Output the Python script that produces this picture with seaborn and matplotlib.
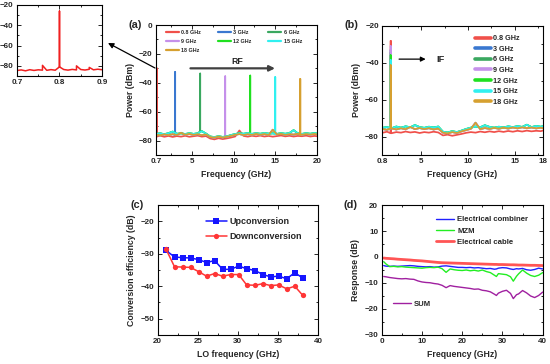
import numpy as np
import pandas as pd
import matplotlib
matplotlib.use("Agg")
import matplotlib.pyplot as plt
from matplotlib.ticker import MultipleLocator
from matplotlib.lines import Line2D
import seaborn as sns

# ---------------- data ----------------
# inset: zoom of the 0.8 GHz tone
inset_freq = [0.70, 0.71, 0.72, 0.73, 0.74, 0.75, 0.76, 0.76, 0.77, 0.78, 0.79, 0.80, 0.80, 0.80,
              0.81, 0.82, 0.83, 0.84, 0.84, 0.85, 0.86, 0.87, 0.87, 0.88, 0.89, 0.90]
inset_power = [-84.6, -84.0, -84.9, -83.8, -84.5, -83.9, -84.2, -79.5, -84.4, -83.7, -84.3, -81.0, -26.0, -81.0,
               -83.6, -84.2, -83.5, -84.0, -80.0, -83.6, -84.1, -83.4, -81.5, -83.9, -83.3, -83.8]

tone_labels = ["0.8 GHz", "3 GHz", "6 GHz", "9 GHz", "12 GHz", "15 GHz", "18 GHz"]
floor_pick = ["low", "mid", "high", "mid", "high", "high", "mid"]

# (a) RF spectra
rf_tone = [0.8, 3, 6, 9, 12, 15, 18]
rf_peak = [-30.0, -32.5, -33.6, -35.5, -35.0, -36.0, -37.3]
freq_a = [0.7, 1.2, 1.7, 2.2, 2.7, 3.2, 3.7, 4.2, 4.7, 5.2, 5.7, 6.2, 6.7, 7.2, 7.7, 8.2, 8.7, 9.2, 9.7, 10.2,
          10.7, 11.2, 11.7, 12.2, 12.7, 13.2, 13.7, 14.2, 14.7, 15.2, 15.7, 16.2, 16.7, 17.2, 17.7, 18.2, 18.7,
          19.2, 19.7, 20.0]
floor_a_low = [-77.2, -76.6, -77.4, -76.8, -77.5, -76.9, -77.3, -76.7, -77.4, -77.0, -76.6, -77.3, -76.9, -78.6,
               -79.2, -78.4, -79.0, -78.5, -77.9, -77.2, -73.0, -76.8, -77.3, -76.7, -77.1, -76.6, -77.2, -76.8,
               -77.3, -76.9, -76.5, -77.1, -76.7, -77.2, -76.8, -77.0, -76.6, -77.2, -76.8, -77.0]
floor_a_mid = [-75.9, -76.5, -75.7, -76.3, -75.6, -76.2, -74.6, -76.0, -75.4, -76.1, -75.6, -76.3, -75.8, -77.6,
               -78.0, -77.3, -77.9, -77.4, -76.8, -76.0, -75.5, -76.2, -75.6, -76.1, -75.4, -76.0, -75.5, -76.2,
               -72.5, -75.8, -75.4, -76.1, -75.6, -75.9, -75.3, -76.0, -75.5, -75.9, -75.4, -75.8]
floor_a_high = [-75.4, -75.0, -75.6, -74.9, -73.8, -75.3, -75.0, -75.5, -74.9, -75.4, -75.0, -73.5, -75.2, -77.2,
                -77.6, -77.0, -77.5, -77.1, -76.2, -75.5, -74.9, -75.3, -74.8, -75.4, -74.9, -75.3, -74.8, -75.2,
                -75.0, -75.4, -74.9, -75.3, -74.8, -72.8, -75.0, -75.4, -74.9, -75.3, -74.8, -75.2]

# (b) IF spectra
if_tone = [1.7, 1.7, 1.7, 1.7, 1.7, 1.7, 1.7]
if_peak = [-28.2, -33.0, -34.5, -31.0, -36.0, -38.6, -41.4]
freq_b = [0.8, 1.3, 1.8, 2.3, 2.8, 3.3, 3.8, 4.3, 4.8, 5.3, 5.8, 6.3, 6.8, 7.3, 7.8, 8.3, 8.8, 9.3, 9.8, 10.3,
          10.8, 11.3, 11.8, 12.3, 12.8, 13.3, 13.8, 14.3, 14.8, 15.3, 15.8, 16.3, 16.8, 17.3, 17.8, 18.0]
floor_b_low = [-78.0, -77.4, -78.2, -77.6, -77.9, -77.3, -77.8, -77.5, -78.1, -77.6, -77.9, -77.4, -77.8, -79.4,
               -79.0, -79.6, -79.1, -78.6, -78.0, -77.6, -77.9, -77.3, -77.7, -77.2, -77.6, -77.1, -77.5, -77.0,
               -77.4, -76.9, -77.3, -76.8, -77.2, -76.9, -77.1, -76.8]
floor_b_mid = [-75.9, -76.4, -75.6, -76.2, -75.5, -76.1, -74.8, -76.0, -75.4, -76.0, -75.5, -76.2, -75.7, -77.9,
               -78.3, -77.6, -78.1, -77.2, -76.5, -75.8, -72.5, -76.0, -75.4, -75.9, -75.3, -75.8, -75.2, -75.7,
               -75.1, -75.6, -75.0, -75.5, -75.1, -75.6, -75.2, -75.5]
floor_b_high = [-75.3, -74.9, -75.5, -74.6, -75.2, -74.5, -75.0, -73.8, -74.9, -75.3, -74.7, -75.1, -74.6, -77.4,
                -77.8, -77.1, -77.6, -76.8, -75.9, -75.2, -74.6, -75.0, -73.9, -74.8, -75.2, -74.7, -75.1, -74.5,
                -74.9, -74.4, -74.8, -73.6, -74.9, -74.3, -74.7, -74.4]

# (c) conversion efficiency
lo_freq = [21.0, 22.1, 23.1, 24.1, 25.1, 26.1, 27.1, 28.1, 29.1, 30.1, 31.1, 32.2, 33.1, 34.1, 35.1, 36.1, 37.1, 38.1]
up_eff = [-28.9, -31.0, -31.2, -31.3, -31.8, -32.7, -32.1, -34.8, -34.8, -33.8, -34.6, -35.2, -36.4, -37.1,
          -36.9, -37.7, -35.8, -37.5]
down_eff = [-28.4, -34.0, -34.1, -34.2, -35.5, -36.9, -36.1, -36.9, -36.4, -36.4, -39.6, -39.7, -39.2, -39.8,
            -39.6, -40.8, -40.0, -42.8]

# (d) frequency responses
freq_d = [0.5, 1, 2, 3, 4, 5, 6, 7, 8, 9, 10, 11, 12, 13, 14, 15, 16, 17, 18, 19, 20, 21, 22, 23, 24, 25, 26,
          27, 28, 28.5, 29, 30, 31, 32, 32.7, 33.5, 34, 35, 36, 37, 38, 39, 40]
combiner = [-3.3, -3.5, -3.6, -3.5, -3.6, -3.5, -3.4, -3.3, -3.4, -3.6, -3.7, -3.8, -3.7, -3.9, -3.8, -3.5, -3.4,
            -3.6, -3.8, -4.0, -4.0, -4.1, -4.0, -4.2, -4.1, -4.3, -4.5, -4.4, -4.7, -4.6, -4.3, -4.1, -4.2, -4.6,
            -4.8, -4.5, -4.6, -4.4, -4.9, -5.1, -4.8, -4.3, -4.6]
mzm = [-1.8, -2.6, -3.7, -3.6, -3.8, -3.7, -3.9, -4.0, -4.1, -4.2, -4.3, -4.1, -4.0, -4.1, -3.9, -4.5, -5.9, -4.6,
       -4.9, -5.1, -5.2, -5.0, -5.3, -5.1, -5.4, -5.0, -5.6, -6.0, -7.0, -7.5, -6.4, -6.6, -6.8, -7.6, -9.3, -7.4,
       -6.5, -5.0, -6.2, -7.1, -7.5, -7.0, -6.0]
cable = [-0.4, -0.5, -0.6, -0.7, -0.85, -0.95, -1.05, -1.15, -1.3, -1.4, -1.5, -1.65, -1.8, -1.95, -2.1, -2.2,
         -2.25, -2.3, -2.35, -2.4, -2.45, -2.5, -2.55, -2.6, -2.65, -2.7, -2.75, -2.8, -2.85, -2.85, -2.9, -2.9,
         -2.95, -3.0, -3.0, -3.05, -3.1, -3.1, -3.15, -3.2, -3.2, -3.25, -3.3]
total = [-7.5, -7.6, -7.9, -8.1, -8.3, -8.4, -8.3, -8.5, -8.6, -9.2, -9.6, -9.8, -9.9, -10.2, -10.4, -10.9, -11.8,
         -11.0, -11.3, -11.5, -11.7, -11.9, -12.1, -12.4, -12.3, -12.8, -13.0, -13.4, -14.3, -14.8, -13.9, -13.2,
         -12.8, -14.0, -16.0, -14.5, -14.2, -12.9, -13.8, -15.0, -15.6, -14.8, -13.5]

tone_colors = ["#f0504a", "#3a78d0", "#3aa860", "#c590ea", "#20e020", "#30f0f0", "#d6a030"]


def spectrum_frame(freqs, floors, tones, peaks):
    rows = []
    for lab, pick, tone, peak in zip(tone_labels, floor_pick, tones, peaks):
        fl = floors[pick]
        k = int(np.argmin(np.abs(np.array(freqs) - tone)))
        base = fl[k]
        rows += [(lab, f, p) for f, p in zip(freqs, fl) if f < tone]
        rows += [(lab, tone, base), (lab, tone, peak), (lab, tone, base)]
        rows += [(lab, f, p) for f, p in zip(freqs, fl) if f > tone]
    return pd.DataFrame(rows, columns=["series", "freq", "power"])


def style(ax, xlim, xticks, xlabels, ylim, yticks, xminor, yminor, size=5.8):
    ax.set_xlim(*xlim)
    ax.set_ylim(*ylim)
    ax.set_xticks(xticks)
    ax.set_xticklabels(xlabels)
    ax.set_yticks(yticks)
    ax.xaxis.set_minor_locator(MultipleLocator(xminor))
    ax.yaxis.set_minor_locator(MultipleLocator(yminor))
    ax.tick_params(which="both", direction="in", top=True, right=True, width=0.7, labelsize=size, pad=2.5)
    ax.tick_params(which="major", length=2.8)
    ax.tick_params(which="minor", length=1.6)
    for s in ax.spines.values():
        s.set_linewidth(0.8)
        s.set_color("black")


sns.set_style("ticks")
plt.rcParams["font.family"] = ["Liberation Sans", "DejaVu Sans"]
plt.rcParams["font.weight"] = "bold"
plt.rcParams["axes.labelweight"] = "bold"

fig = plt.figure(figsize=(5.5, 3.64), dpi=100)
ax_i = fig.add_axes([0.0309, 0.7912, 0.1545, 0.1951])
ax_a = fig.add_axes([0.2836, 0.5742, 0.2927, 0.3571])
ax_b = fig.add_axes([0.6951, 0.5742, 0.2916, 0.3552])
ax_c = fig.add_axes([0.2867, 0.0797, 0.2915, 0.3571])
ax_d = fig.add_axes([0.6940, 0.0797, 0.2927, 0.3571])

# inset
sns.lineplot(x=inset_freq, y=inset_power, sort=False, estimator=None, color="#f02020", lw=1.1, ax=ax_i)
style(ax_i, (0.7, 0.9), [0.7, 0.8, 0.9], ["0.7", "0.8", "0.9"], (-90, -20), [-20, -40, -60, -80], 0.05, 10)

# (a)
df_a = spectrum_frame(freq_a, {"low": floor_a_low, "mid": floor_a_mid, "high": floor_a_high}, rf_tone, rf_peak)
sns.lineplot(data=df_a, x="freq", y="power", hue="series", hue_order=tone_labels, palette=tone_colors,
             estimator=None, sort=False, lw=1.25, legend=False, ax=ax_a)
style(ax_a, (0.7, 20), [0.7, 5, 10, 15, 20], ["0.7", "5", "10", "15", "20"], (-90, 0), [0, -20, -40, -60, -80],
      2.5, 10)
ax_a.set_xlabel("Frequency (GHz)", fontsize=6.3, labelpad=3)
ax_a.set_ylabel("Power (dBm)", fontsize=6.3, labelpad=3)
order = [0, 3, 6, 1, 4, 2, 5]
h_a = [Line2D([], [], color=tone_colors[i], lw=1.6) for i in order]
ax_a.legend(h_a, [tone_labels[i] for i in order], ncol=3, loc="upper left", bbox_to_anchor=(0.06, 0.965),
            frameon=False, fontsize=3.9, handlelength=2.4, handletextpad=0.45, columnspacing=3.1,
            labelspacing=0.75, borderpad=0, borderaxespad=0)
ax_a.annotate("", xy=(15.3, -30), xytext=(4.5, -30),
              arrowprops=dict(arrowstyle="-|>", color="#404040", lw=1.6, mutation_scale=8))
ax_a.text(10.5, -25.5, "RF", fontsize=6.3, ha="center", va="center")
ax_a.annotate("", xy=(108 / 550, 1 - 43 / 364), xycoords="figure fraction",
              xytext=(155 / 550, 1 - 68 / 364), textcoords="figure fraction",
              arrowprops=dict(arrowstyle="-|>", color="black", lw=0.9, mutation_scale=8, shrinkA=0, shrinkB=0),
              annotation_clip=False)

# (b)
df_b = spectrum_frame(freq_b, {"low": floor_b_low, "mid": floor_b_mid, "high": floor_b_high}, if_tone, if_peak)
sns.lineplot(data=df_b, x="freq", y="power", hue="series", hue_order=tone_labels, palette=tone_colors,
             estimator=None, sort=False, lw=1.25, legend=False, ax=ax_b)
style(ax_b, (0.8, 18), [0.8, 5, 10, 15, 18], ["0.8", "5", "10", "15", "18"], (-90, -20), [-20, -40, -60, -80],
      2.5, 10)
ax_b.set_xlabel("Frequency (GHz)", fontsize=6.3, labelpad=3)
ax_b.set_ylabel("Power (dBm)", fontsize=6.3, labelpad=3)
h_b = [Line2D([], [], color=c, lw=2.6) for c in tone_colors]
ax_b.legend(h_b, tone_labels, loc="upper left", bbox_to_anchor=(0.575, 0.925), frameon=False, fontsize=5.2,
            handlelength=2.3, handletextpad=0.25, labelspacing=0.48, borderpad=0, borderaxespad=0)
ax_b.annotate("", xy=(5.75, -38.1), xytext=(2.3, -38.1),
              arrowprops=dict(arrowstyle="-|>", color="black", lw=0.9, mutation_scale=7))
ax_b.text(6.6, -38.1, "IF", fontsize=6.7, ha="left", va="center")

# (c)
sns.lineplot(x=lo_freq, y=up_eff, color="#1515ff", marker="s", markersize=3.8, markeredgewidth=0, lw=1.1,
             label="Upconversion", ax=ax_c)
sns.lineplot(x=lo_freq, y=down_eff, color="#ff3535", marker="o", markersize=3.8, markeredgewidth=0, lw=1.1,
             label="Downconversion", ax=ax_c)
style(ax_c, (20, 40), [20, 25, 30, 35, 40], ["20", "25", "30", "35", "40"], (-55, -15), [-20, -30, -40, -50],
      2.5, 5)
ax_c.set_xlabel("LO frequency (GHz)", fontsize=6.3, labelpad=3)
ax_c.set_ylabel("Conversion efficiency (dB)", fontsize=6.3, labelpad=3)
ax_c.legend(loc="upper left", bbox_to_anchor=(0.3, 0.905), frameon=False, fontsize=6.5, handlelength=2.3,
            handletextpad=0.3, labelspacing=0.6, borderpad=0, borderaxespad=0)

# (d)
sns.lineplot(x=freq_d, y=combiner, color="#2020ff", lw=1.0, label="Electrical combiner", ax=ax_d)
sns.lineplot(x=freq_d, y=mzm, color="#22ee22", lw=1.0, label="MZM", ax=ax_d)
sns.lineplot(x=freq_d, y=cable, color="#ff5555", lw=2.0, label="Electrical cable", ax=ax_d)
sns.lineplot(x=freq_d, y=total, color="#a020a0", lw=1.0, label="SUM", ax=ax_d)
style(ax_d, (0, 40), [0, 10, 20, 30, 40], ["0", "10", "20", "30", "40"], (-30, 20), [20, 10, 0, -10, -20, -30],
      5, 5)
ax_d.set_xlabel("Frequency (GHz)", fontsize=6.3, labelpad=3)
ax_d.set_ylabel("Response (dB)", fontsize=6.3, labelpad=3)
hd, ld = ax_d.get_legend_handles_labels()
leg1 = ax_d.legend(hd[:3], ld[:3], loc="upper left", bbox_to_anchor=(0.34, 0.915), frameon=False, fontsize=5.6,
                   handlelength=2.3, handletextpad=0.4, labelspacing=0.48, borderpad=0, borderaxespad=0)
ax_d.add_artist(leg1)
ax_d.legend(hd[3:], ld[3:], loc="upper left", bbox_to_anchor=(0.07, 0.265), frameon=False, fontsize=5.6,
            handlelength=2.3, handletextpad=0.4, borderpad=0, borderaxespad=0)

for x, y, t in [(135, 25, "(a)"), (351, 25, "(b)"), (137, 205, "(c)"), (351, 205, "(d)")]:
    fig.text(x / 550, 1 - y / 364, t, fontsize=7.8, ha="center", va="center")

fig.savefig("out.png", dpi=100)
